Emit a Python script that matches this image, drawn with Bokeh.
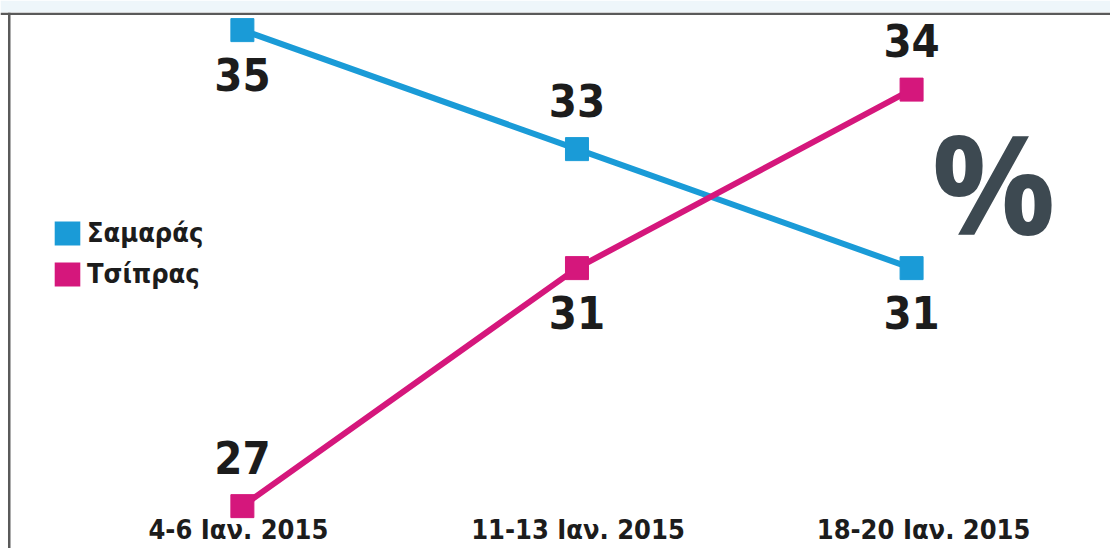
from bokeh.plotting import figure
from bokeh.models import Range1d, Legend, LegendItem, Label, BoxAnnotation, ColumnDataSource
from bokeh.core.properties import value
from bokeh.embed import file_html
from bokeh.resources import INLINE

# ---- data ----
periods = ["4-6 Ιαν. 2015", "11-13 Ιαν. 2015", "18-20 Ιαν. 2015"]
samaras = [35, 33, 31]
tsipras = [27, 31, 34]
series_names = ["Σαμαράς", "Τσίπρας"]

# ---- style ----
BLUE = "#1a9bd7"
PINK = "#d5177c"
DARK = "#1c1c1c"
FONT = "DejaVu Sans Condensed"
OFF = {"above": -49, "below": 44}
samaras_place = ["below", "above", "below"]
tsipras_place = ["above", "below", "above"]
PX_X = 334.6   # pixels per category step
PX_Y = 59.5    # pixels per percentage point

x = list(range(len(periods)))

xr = Range1d(-0.7229, 2.5945)
yr = Range1d(26.288, 35.296)
p = figure(width=1110, height=548, output_backend="svg", toolbar_location=None,
           x_range=xr, y_range=yr, x_axis_location=None, y_axis_location=None,
           min_border_left=0, min_border_right=0, min_border_top=12, min_border_bottom=0)
p.grid.visible = False
p.outline_line_color = None
p.border_fill_color = "#eef6fa"
p.background_fill_color = "white"

# frame lines (left, top)
p.add_layout(BoxAnnotation(left=xr.start + 7.5 / PX_X, right=xr.start + 10 / PX_X,
                           fill_color="#5a5a5a", fill_alpha=1, line_color=None))
p.add_layout(BoxAnnotation(bottom=yr.end - 2.5 / PX_Y, fill_color="#5a5a5a", fill_alpha=1, line_color=None))

scatters = []
for vals, col, place in [(samaras, BLUE, samaras_place), (tsipras, PINK, tsipras_place)]:
    p.line(x, vals, line_color=col, line_width=6)
    scatters.append(p.scatter(x, vals, marker="square", size=23, fill_color=col, line_color=col))
    p.text(x, vals, text=[str(v) for v in vals], y_offset=[OFF[k] for k in place],
           text_align="center", text_baseline="middle", text_font=value(FONT),
           text_font_style="bold", text_font_size="45px", text_color=DARK)

# category labels along the bottom
p.text(x, [yr.start] * len(x), text=periods, x_offset=[-4, 1, 12], y_offset=-19,
       text_align="center", text_baseline="middle", text_font=value(FONT),
       text_font_style="bold", text_font_size="27px", text_color=DARK)

# legend (square swatches only)
nan = float("nan")
src = ColumnDataSource(dict(l=[nan], r=[nan], t=[nan], b=[nan]))
r1 = p.quad(left="l", right="r", top="t", bottom="b", source=src, fill_color=BLUE, line_color=None)
r2 = p.quad(left="l", right="r", top="t", bottom="b", source=src, fill_color=PINK, line_color=None)
legend = Legend(items=[LegendItem(label=series_names[0], renderers=[r1]),
                       LegendItem(label=series_names[1], renderers=[r2])],
                location=(51, 259), label_text_font=FONT, label_text_font_style="bold",
                label_text_font_size="27px", label_text_color=DARK, glyph_width=32, glyph_height=30,
                spacing=10, padding=0, margin=0, border_line_color=None, background_fill_alpha=0,
                label_standoff=4)
p.add_layout(legend)

p.add_layout(Label(x=2.245, y=32.472, text="%", text_font="Open Sans", text_font_style="bold",
                   text_font_size="138px", text_color="#3d4951", text_align="center",
                   text_baseline="middle"))

open("out.html", "w").write(file_html(p, INLINE))
